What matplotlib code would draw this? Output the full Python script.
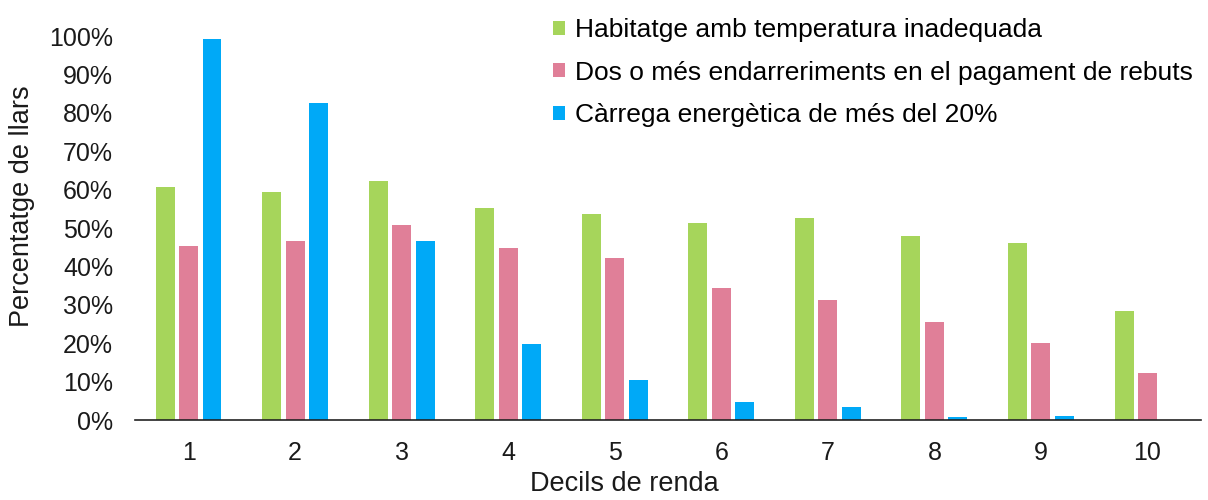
import numpy as np
import matplotlib.pyplot as plt

# Decils de renda
deciles = [1, 2, 3, 4, 5, 6, 7, 8, 9, 10]

# Percentatge de llars (%)
temperatura = [60.8, 59.4, 62.2, 55.3, 53.6, 51.3, 52.5, 47.8, 46.0, 28.5]
endarreriments = [45.2, 46.6, 50.7, 44.8, 42.1, 34.3, 31.2, 25.5, 20.0, 12.2]
carrega = [99.3, 82.6, 46.5, 19.7, 10.3, 4.6, 3.4, 0.8, 1.1, 0.0]

labels = [
    "Habitatge amb temperatura inadequada",
    "Dos o més endarreriments en el pagament de rebuts",
    "Càrrega energètica de més del 20%",
]
colors = ["#a6d55b", "#e07f98", "#00a9f7"]

plt.rcParams['font.family'] = ['Liberation Sans', 'DejaVu Sans']

fig = plt.figure(figsize=(12.08, 5.0), dpi=100)
ax = fig.add_axes([0.112, 0.16, 0.882, 0.768])

x = np.array(deciles)
width = 0.178
step = 0.22
bars = []
for i, (vals, col) in enumerate(zip([temperatura, endarreriments, carrega], colors)):
    b = ax.bar(x + (i - 1) * step, vals, width, color=col, label=labels[i])
    bars.append(b)

ax.set_xlim(0.5, 10.5)
ax.set_ylim(0, 100)
ax.set_yticks(np.arange(0, 101, 10))
ax.set_yticklabels([f"{v}%" for v in range(0, 101, 10)])
ax.set_xticks(x)
ax.set_xticklabels([str(d) for d in deciles])
ax.tick_params(axis='both', length=0, labelsize=18, colors='#1a1a1a')
ax.tick_params(axis='x', pad=15)
ax.tick_params(axis='y', pad=16)

for s in ['top', 'right', 'left']:
    ax.spines[s].set_visible(False)
ax.spines['bottom'].set_color('#222222')
ax.spines['bottom'].set_linewidth(1.2)

ax.set_ylabel("Percentatge de llars", fontsize=19.5, color='#1a1a1a')
ax.yaxis.set_label_coords(-0.106, 0.557)
ax.set_xlabel("Decils de renda", fontsize=19.5, color='#1a1a1a')
ax.xaxis.set_label_coords(0.459, -0.166)
ax.xaxis.label.set_va('center')
ax.yaxis.label.set_va('center')

fig.legend(handles=bars, loc='upper left', bbox_to_anchor=(0.449, 0.985),
           frameon=False, fontsize=19, handlelength=0.45, handleheight=0.45,
           handletextpad=0.4, labelspacing=0.7, borderaxespad=0.0)

fig.savefig("out.png", dpi=100)
